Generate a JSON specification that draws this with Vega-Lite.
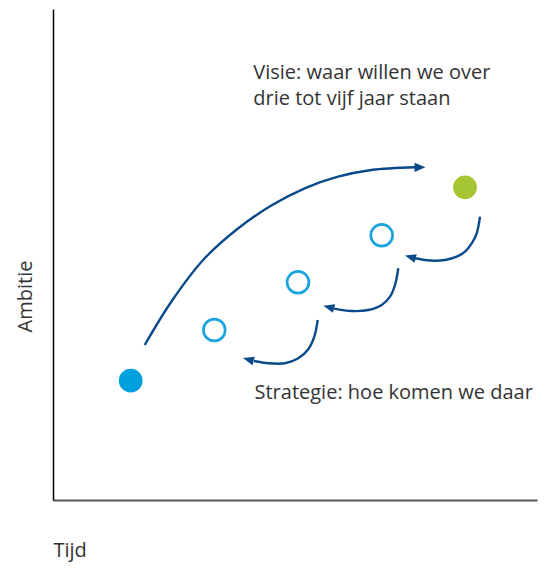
{
  "$schema": "https://vega.github.io/schema/vega-lite/v6.json",
  "width": 484,
  "height": 491,
  "autosize": {"type": "none"},
  "padding": {"left": 53, "top": 9, "right": 13, "bottom": 68},
  "background": "white",
  "view": {"stroke": null},
  "config": {"font": "Open Sans"},
  "datasets": {
    "stages": [
      {"stage": "Huidige positie", "kind": "start", "x": 77.7, "y": 119.3},
      {"stage": "Stap 1", "kind": "stap", "x": 161.3, "y": 170},
      {"stage": "Stap 2", "kind": "stap", "x": 245, "y": 217.7},
      {"stage": "Stap 3", "kind": "stap", "x": 328.7, "y": 264.7},
      {"stage": "Visie", "kind": "doel", "x": 412, "y": 312.7}
    ],
    "curves": [
      {"arrow": "visie", "i": 0, "x": 91.7, "y": 155},
      {"arrow": "visie", "i": 1, "x": 118.3, "y": 198.3},
      {"arrow": "visie", "i": 2, "x": 151.7, "y": 241.7},
      {"arrow": "visie", "i": 3, "x": 185, "y": 271.5},
      {"arrow": "visie", "i": 4, "x": 218.3, "y": 294.5},
      {"arrow": "visie", "i": 5, "x": 251.7, "y": 311.7},
      {"arrow": "visie", "i": 6, "x": 285, "y": 323.3},
      {"arrow": "visie", "i": 7, "x": 318.3, "y": 330},
      {"arrow": "visie", "i": 8, "x": 362, "y": 332.7},
      {"arrow": "terug3", "i": 0, "x": 427, "y": 283.3},
      {"arrow": "terug3", "i": 1, "x": 423.7, "y": 266.7},
      {"arrow": "terug3", "i": 2, "x": 418.7, "y": 256.7},
      {"arrow": "terug3", "i": 3, "x": 412, "y": 248.3},
      {"arrow": "terug3", "i": 4, "x": 403.7, "y": 243.3},
      {"arrow": "terug3", "i": 5, "x": 392, "y": 240},
      {"arrow": "terug3", "i": 6, "x": 382, "y": 239.3},
      {"arrow": "terug3", "i": 7, "x": 372, "y": 240},
      {"arrow": "terug3", "i": 8, "x": 362, "y": 241.7},
      {"arrow": "terug2", "i": 0, "x": 345.3, "y": 231.7},
      {"arrow": "terug2", "i": 1, "x": 342, "y": 215},
      {"arrow": "terug2", "i": 2, "x": 337, "y": 203.3},
      {"arrow": "terug2", "i": 3, "x": 328.7, "y": 195},
      {"arrow": "terug2", "i": 4, "x": 315.3, "y": 190},
      {"arrow": "terug2", "i": 5, "x": 298.7, "y": 189},
      {"arrow": "terug2", "i": 6, "x": 281, "y": 191.4},
      {"arrow": "terug1", "i": 0, "x": 264.7, "y": 180},
      {"arrow": "terug1", "i": 1, "x": 261.3, "y": 163.3},
      {"arrow": "terug1", "i": 2, "x": 255.3, "y": 150.7},
      {"arrow": "terug1", "i": 3, "x": 245.3, "y": 141.7},
      {"arrow": "terug1", "i": 4, "x": 232, "y": 136.7},
      {"arrow": "terug1", "i": 5, "x": 215.3, "y": 136.7},
      {"arrow": "terug1", "i": 6, "x": 201, "y": 139}
    ],
    "heads": [
      {"arrow": "visie", "dir": "vooruit", "x": 367, "y": 332.7},
      {"arrow": "terug3", "dir": "terug", "x": 357.3, "y": 243},
      {"arrow": "terug2", "dir": "terug", "x": 275.7, "y": 192.8},
      {"arrow": "terug1", "dir": "terug", "x": 195.3, "y": 140.5}
    ],
    "labels": [
      {"label": "Visie: waar willen we over", "x": 200.3, "y": 420.7},
      {"label": "drie tot vijf jaar staan", "x": 200.3, "y": 395.5},
      {"label": "Strategie: hoe komen we daar", "x": 201.5, "y": 100.7}
    ]
  },
  "encoding": {
    "x": {
      "field": "x", "type": "quantitative",
      "scale": {"domain": [0, 484], "nice": false, "zero": false},
      "axis": {
        "title": "Tijd", "ticks": false, "labels": false, "grid": false,
        "domainColor": "#555555", "domainWidth": 2,
        "titleFont": "Open Sans", "titleFontSize": 20, "titleFontWeight": "normal", "titleColor": "#333333",
        "titleAnchor": "start", "titleAlign": "left", "titleBaseline": "middle",
        "titleX": 0, "titleY": 50
      }
    },
    "y": {
      "field": "y", "type": "quantitative",
      "scale": {"domain": [0, 491], "nice": false, "zero": false},
      "axis": {
        "title": "Ambitie", "ticks": false, "labels": false, "grid": false,
        "domainColor": "#000000", "domainWidth": 1.5,
        "titleFont": "Open Sans", "titleFontSize": 20, "titleFontWeight": "normal", "titleColor": "#333333",
        "titleAngle": -90, "titleAlign": "center", "titleBaseline": "middle",
        "titleX": -28, "titleY": 287
      }
    }
  },
  "layer": [
    {
      "data": {"name": "curves"},
      "mark": {"type": "line", "interpolate": "catmull-rom", "color": "#0a4a8b", "strokeWidth": 2.4, "strokeCap": "butt"},
      "encoding": {
        "detail": {"field": "arrow"},
        "order": {"field": "i", "type": "quantitative"}
      }
    },
    {
      "data": {"name": "heads"},
      "transform": [{"filter": "datum.dir === 'vooruit'"}],
      "mark": {"type": "point", "shape": "M1,0L-1,-0.85L-1,0.85Z", "size": 121, "filled": true, "opacity": 1, "color": "#0a4a8b", "angle": 0}
    },
    {
      "data": {"name": "heads"},
      "transform": [{"filter": "datum.dir === 'terug'"}],
      "mark": {"type": "point", "shape": "M1,0L-1,-0.8L-1,0.8Z", "size": 121, "filled": true, "opacity": 1, "color": "#0a4a8b", "angle": 195}
    },
    {
      "data": {"name": "stages"},
      "transform": [{"filter": "datum.kind !== 'stap'"}],
      "mark": {"type": "circle", "size": 565, "opacity": 1},
      "encoding": {
        "color": {
          "field": "kind", "type": "nominal",
          "scale": {"domain": ["start", "doel"], "range": ["#00a0dc", "#a6c532"]},
          "legend": null
        }
      }
    },
    {
      "data": {"name": "stages"},
      "transform": [{"filter": "datum.kind === 'stap'"}],
      "mark": {"type": "point", "shape": "circle", "size": 475, "filled": false, "opacity": 1, "stroke": "#1aa3dd", "strokeWidth": 2.7}
    },
    {
      "data": {"name": "labels"},
      "mark": {"type": "text", "align": "left", "baseline": "alphabetic", "font": "Open Sans", "fontSize": 20, "color": "#333333"},
      "encoding": {"text": {"field": "label"}}
    }
  ]
}
